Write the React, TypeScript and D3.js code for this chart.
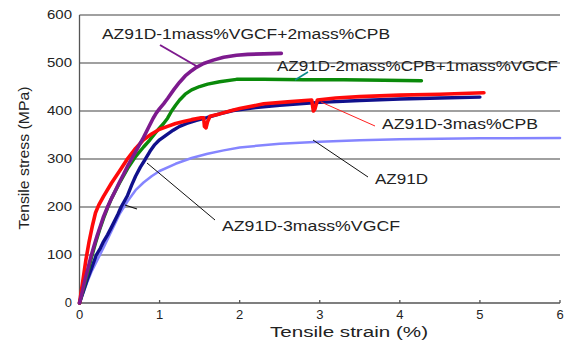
import React from "react";
import * as d3 from "d3";

const xTicks = [0, 1, 2, 3, 4, 5, 6];
const yTicks = [0, 100, 200, 300, 400, 500, 600];

const seriesNames = [
  "AZ91D",
  "AZ91D-3mass%VGCF",
  "AZ91D-2mass%CPB+1mass%VGCF",
  "AZ91D-3mas%CPB",
  "AZ91D-1mass%VGCF+2mass%CPB",
];

const az91d: [number, number][] = [
  [0, 0], [0.05, 22], [0.1, 45], [0.15, 65], [0.2, 82], [0.3, 115], [0.4, 150], [0.5, 185],
  [0.6, 212], [0.7, 235], [0.8, 251], [0.9, 264], [1.0, 275], [1.2, 290], [1.4, 302],
  [1.6, 311], [1.8, 318], [2.0, 324], [2.5, 332], [3.0, 336], [3.5, 339], [4.0, 341],
  [5.0, 343], [6.0, 344],
];

const vgcf3: [number, number][] = [
  [0, 0], [0.05, 25], [0.1, 50], [0.15, 72], [0.21, 100], [0.26, 114], [0.3, 128], [0.35, 142],
  [0.4, 158], [0.48, 185], [0.52, 200], [0.6, 224], [0.65, 245], [0.7, 264], [0.76, 283],
  [0.82, 299], [0.88, 316], [0.94, 330], [1.0, 340], [1.1, 352], [1.17, 360], [1.25, 368],
  [1.34, 374], [1.45, 380], [1.59, 386], [1.75, 394], [1.92, 401], [2.2, 407], [2.5, 412],
  [3.0, 418], [3.5, 422], [4.0, 425], [4.5, 427], [5.0, 429],
];

const cpb2vgcf1: [number, number][] = [
  [0, 0], [0.05, 30], [0.1, 62], [0.15, 95], [0.2, 125], [0.25, 152], [0.3, 176], [0.35, 198],
  [0.4, 218], [0.5, 250], [0.6, 280], [0.7, 305], [0.8, 325], [0.88, 340], [0.95, 355],
  [1.0, 365], [1.05, 374], [1.1, 385], [1.15, 400], [1.2, 412], [1.25, 423], [1.32, 435],
  [1.4, 444], [1.5, 451], [1.6, 456], [1.75, 461], [1.96, 466], [2.3, 466], [2.8, 465],
  [3.3, 465], [3.8, 464], [4.27, 463],
];

const cpb3: [number, number][] = [
  [0, 0], [0.02, 22], [0.04, 44], [0.08, 90], [0.12, 128], [0.16, 160], [0.2, 188],
  [0.24, 204], [0.3, 222], [0.4, 250], [0.5, 275], [0.59, 298], [0.7, 322],
  [0.8, 340], [0.9, 352], [1.0, 362], [1.1, 368], [1.2, 374], [1.3, 378], [1.4, 382],
  [1.52, 386], [1.55, 386], [1.56, 368], [1.58, 365], [1.6, 378], [1.63, 389], [1.75, 394],
  [1.9, 401], [2.0, 405], [2.3, 415], [2.6, 419], [2.9, 423], [2.92, 400], [2.94, 404],
  [2.97, 423], [3.2, 427], [3.5, 430], [4.0, 433], [4.5, 435], [5.05, 438],
];

const vgcf1cpb2: [number, number][] = [
  [0, 0], [0.03, 20], [0.06, 42], [0.1, 68], [0.14, 95], [0.18, 118], [0.22, 140],
  [0.26, 160], [0.3, 180], [0.35, 200], [0.4, 218], [0.45, 235], [0.5, 252], [0.55, 268],
  [0.6, 285], [0.65, 300], [0.7, 315], [0.75, 330], [0.8, 345], [0.86, 365], [0.92, 385],
  [0.96, 396], [1.0, 405], [1.05, 415], [1.1, 426], [1.18, 445], [1.25, 460], [1.32, 473],
  [1.4, 484], [1.46, 491], [1.55, 499], [1.67, 506], [1.8, 512], [1.96, 516], [2.1, 518],
  [2.3, 519], [2.52, 520],
];

const W = 578;
const H = 347;
const FONT = "'Liberation Sans', Arial, sans-serif";

export default function App() {
  const x = d3.scaleLinear().domain([0, 6]).range([79.5, 560]);
  const y = d3.scaleLinear().domain([0, 600]).range([303, 15]);
  const line = d3
    .line<[number, number]>()
    .x((d) => x(d[0]))
    .y((d) => y(d[1]));

  const curves = [
    { data: az91d, color: "#8585ff", w: 2.5 },
    { data: vgcf3, color: "#10108c", w: 3.4 },
    { data: cpb2vgcf1, color: "#0a8a0a", w: 3.4 },
    { data: cpb3, color: "#ff0a0a", w: 3.6 },
    { data: vgcf1cpb2, color: "#7d1a8e", w: 3.6 },
  ];

  const labels = [
    { text: seriesNames[4], x: 102, y: 39, len: 288 },
    { text: seriesNames[2], x: 277, y: 71, len: 281 },
    { text: seriesNames[3], x: 382, y: 129, len: 156 },
    { text: seriesNames[0], x: 375, y: 184, len: 53 },
    { text: seriesNames[1], x: 222, y: 231, len: 178 },
  ];

  const leaders = [
    { x1: 160, y1: 45, x2: 198, y2: 67, c: "#7d1a8e", w: 2 },
    { x1: 308, y1: 72, x2: 295, y2: 80, c: "#0a8a8a", w: 1.5 },
    { x1: 321, y1: 102, x2: 375, y2: 126, c: "#ff2020", w: 1 },
    { x1: 313, y1: 140, x2: 368, y2: 177, c: "#111", w: 1 },
    { x1: 147, y1: 163, x2: 215, y2: 220, c: "#111", w: 1 },
    { x1: 125, y1: 205, x2: 137, y2: 209, c: "#111", w: 1.2 },
  ];

  return (
    <svg
      width={W}
      height={H}
      style={{ position: "absolute", left: 0, top: 0, background: "#fff" }}
      fontFamily={FONT}
    >
      {yTicks.map((t) =>
        t === 0 ? null : (
          <line key={"g" + t} x1={x(0)} x2={x(6)} y1={y(t)} y2={y(t)} stroke="#808080" strokeWidth={1.3} />
        )
      )}
      <line x1={x(0)} x2={x(0)} y1={y(600)} y2={y(0)} stroke="#555" strokeWidth={1.3} />
      <line x1={x(0)} x2={x(6)} y1={y(0)} y2={y(0)} stroke="#555" strokeWidth={1.3} />
      {xTicks.map((t) => (
        <line key={"xt" + t} x1={x(t)} x2={x(t)} y1={y(0)} y2={y(0) - 3} stroke="#555" strokeWidth={1.3} />
      ))}
      {yTicks.map((t) => (
        <text
          key={"yl" + t}
          x={72}
          y={y(t) + 1}
          textAnchor="end"
          dominantBaseline="middle"
          fontSize={13}
          fill="#222"
          textLength={t === 0 ? undefined : 25}
          lengthAdjust="spacingAndGlyphs"
        >
          {t}
        </text>
      ))}
      {xTicks.map((t) => (
        <text key={"xl" + t} x={x(t)} y={316} textAnchor="middle" dominantBaseline="middle" fontSize={13} fill="#222">
          {t}
        </text>
      ))}
      <text
        transform={`translate(25,158) rotate(-90)`}
        textAnchor="middle"
        dominantBaseline="middle"
        fontSize={14}
        fill="#222"
        textLength={143}
        lengthAdjust="spacingAndGlyphs"
      >
        Tensile stress (MPa)
      </text>
      <text
        x={349}
        y={333}
        textAnchor="middle"
        dominantBaseline="middle"
        fontSize={14}
        fill="#222"
        textLength={158}
        lengthAdjust="spacingAndGlyphs"
      >
        Tensile strain (%)
      </text>
      {curves.map((c, i) => (
        <path
          key={"c" + i}
          d={line(c.data) || ""}
          fill="none"
          stroke={c.color}
          strokeWidth={c.w}
          strokeLinejoin="round"
          strokeLinecap="round"
        />
      ))}
      {leaders.map((l, i) => (
        <line key={"ld" + i} x1={l.x1} y1={l.y1} x2={l.x2} y2={l.y2} stroke={l.c} strokeWidth={l.w} />
      ))}
      {labels.map((l, i) => (
        <text
          key={"lb" + i}
          x={l.x}
          y={l.y}
          fontSize={14}
          fill="#222"
          textLength={l.len}
          lengthAdjust="spacingAndGlyphs"
        >
          {l.text}
        </text>
      ))}
    </svg>
  );
}
